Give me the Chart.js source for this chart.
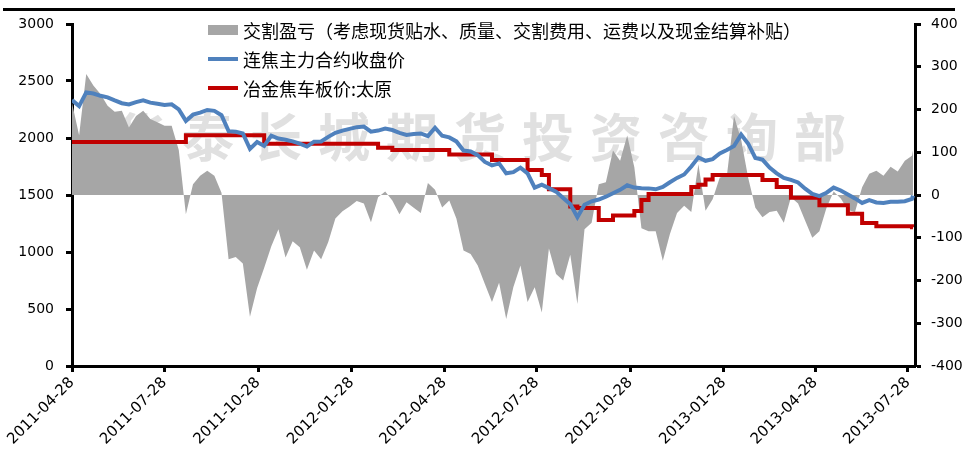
<!DOCTYPE html>
<html>
<head>
<meta charset="utf-8">
<title>焦炭交割盈亏</title>
<script src="https://cdn.jsdelivr.net/npm/chart.js@4.4.0/dist/chart.umd.min.js"></script>
<style>
    body { margin: 0; background: #fff; }
    #wrap { width: 965px; height: 450px; position: relative; }
</style>
</head>
<body>
<div id="wrap"><canvas id="chartJiaotan"></canvas></div>
<script>
// weekly samples
const dates = [
    '2011-04-28','2011-05-05','2011-05-12','2011-05-19','2011-05-26','2011-06-02','2011-06-09','2011-06-16','2011-06-23','2011-06-30',
    '2011-07-07','2011-07-14','2011-07-21','2011-07-28','2011-08-04','2011-08-11','2011-08-18','2011-08-25','2011-09-01','2011-09-08',
    '2011-09-15','2011-09-22','2011-09-29','2011-10-06','2011-10-13','2011-10-20','2011-10-27','2011-11-03','2011-11-10','2011-11-17',
    '2011-11-24','2011-12-01','2011-12-08','2011-12-15','2011-12-22','2011-12-29','2012-01-05','2012-01-12','2012-01-19','2012-01-26',
    '2012-02-02','2012-02-09','2012-02-16','2012-02-23','2012-03-01','2012-03-08','2012-03-15','2012-03-22','2012-03-29','2012-04-05',
    '2012-04-12','2012-04-19','2012-04-26','2012-05-03','2012-05-10','2012-05-17','2012-05-24','2012-05-31','2012-06-07','2012-06-14',
    '2012-06-21','2012-06-28','2012-07-05','2012-07-12','2012-07-19','2012-07-26','2012-08-02','2012-08-09','2012-08-16','2012-08-23',
    '2012-08-30','2012-09-06','2012-09-13','2012-09-20','2012-09-27','2012-10-04','2012-10-11','2012-10-18','2012-10-25','2012-11-01',
    '2012-11-08','2012-11-15','2012-11-22','2012-11-29','2012-12-06','2012-12-13','2012-12-20','2012-12-27','2013-01-03','2013-01-10',
    '2013-01-17','2013-01-24','2013-01-31','2013-02-07','2013-02-14','2013-02-21','2013-02-28','2013-03-07','2013-03-14','2013-03-21',
    '2013-03-28','2013-04-04','2013-04-11','2013-04-18','2013-04-25','2013-05-02','2013-05-09','2013-05-16','2013-05-23','2013-05-30',
    '2013-06-06','2013-06-13','2013-06-20','2013-06-27','2013-07-04','2013-07-11','2013-07-18','2013-07-25','2013-08-01','2013-08-02'
];

// 交割盈亏 (right axis)
const jiaogeYingkui = [
    215, 140, 283, 256, 236, 209, 195, 197, 158, 185,
    197, 178, 170, 162, 162, 105, -45, 25, 45, 57,
    45, 5, -150, -145, -160, -285, -218, -170, -120, -80,
    -146, -108, -122, -175, -130, -150, -110, -55, -38, -27,
    -14, -20, -64, -5, 8, -13, -45, -17, -30, -42,
    28, 12, -29, -13, -55, -130, -138, -165, -208, -250,
    -205, -290, -216, -165, -250, -216, -275, -125, -185, -200,
    -140, -255, -80, -65, 25, 30, 104, 80, 139, 65,
    -78, -85, -85, -154, -91, -42, -25, -40, 72, -37,
    -10, 41, 45, 185, 130, 40, -30, -52, -40, -37,
    -65, -5, -20, -60, -100, -85, -30, 8, -8, -35,
    -40, 18, 50, 57, 45, 66, 55, 80, 92, 104
];

// 连焦主力合约收盘价 (left axis)
const lianjiaoClose = [
    2333, 2280, 2400, 2390, 2370, 2357, 2330, 2305, 2295, 2315,
    2330, 2310, 2300, 2290, 2295, 2250, 2150, 2205, 2222, 2246,
    2238, 2200, 2060, 2055, 2040, 1905, 1965, 1930, 2020, 1995,
    1985, 1970, 1950, 1925, 1968, 1970, 2010, 2045, 2065, 2080,
    2095, 2100, 2055, 2065, 2082, 2070, 2045, 2026, 2035, 2040,
    2017, 2090, 2020, 2005, 1970, 1890, 1882, 1850, 1790, 1760,
    1777, 1690, 1700, 1740, 1690, 1565, 1590, 1560, 1530, 1474,
    1420, 1305, 1415, 1445, 1460, 1485, 1515, 1545, 1585, 1565,
    1560, 1558, 1550, 1570, 1612, 1650, 1680, 1750, 1830, 1800,
    1815, 1865, 1895, 1930, 2030, 1950, 1825, 1810, 1740, 1690,
    1650, 1632, 1610, 1555, 1510, 1490, 1520, 1565, 1540, 1505,
    1470, 1430, 1455, 1435, 1430, 1441, 1440, 1445, 1465, 1495
];

// 冶金焦车板价:太原 (left axis)
const taiyuanPrice = [
    1965, 1965, 1965, 1965, 1965, 1965, 1965, 1965, 1965, 1965,
    1965, 1965, 1965, 1965, 1965, 1965, 2025, 2025, 2025, 2025,
    2025, 2025, 2025, 2025, 2025, 2025, 2025, 1950, 1950, 1950,
    1950, 1950, 1950, 1950, 1950, 1950, 1950, 1950, 1950, 1950,
    1950, 1950, 1950, 1915, 1915, 1895, 1895, 1895, 1895, 1895,
    1895, 1895, 1895, 1855, 1855, 1855, 1855, 1855, 1855, 1807,
    1807, 1807, 1807, 1807, 1720, 1720, 1676, 1550, 1550, 1550,
    1400, 1385, 1385, 1385, 1280, 1280, 1320, 1320, 1320, 1360,
    1456, 1508, 1508, 1508, 1508, 1508, 1508, 1570, 1590, 1635,
    1676, 1676, 1676, 1676, 1676, 1676, 1676, 1632, 1632, 1570,
    1570, 1475, 1475, 1475, 1475, 1410, 1410, 1410, 1410, 1335,
    1335, 1255, 1255, 1225, 1225, 1225, 1225, 1225, 1218, 1218
];

const tickDates = ['2011-04-28', '2011-07-28', '2011-10-28', '2012-01-28', '2012-04-28',
    '2012-07-28', '2012-10-28', '2013-01-28', '2013-04-28', '2013-07-28'];
const axisEnd = '2013-08-04';

const seriesNames = [
    '交割盈亏（考虑现货贴水、质量、交割费用、运费以及现金结算补贴）',
    '连焦主力合约收盘价',
    '冶金焦车板价:太原'
];
const watermark = '华泰长城期货投资咨询部';

const dayOf = (s) => (Date.parse(s) - Date.parse(dates[0])) / 86400000;
const toPoints = (values) => values.map((v, i) => ({ x: dayOf(dates[i]), y: v }));

// legend drawn inside the plot, stacked like the original
const boxLegend = {
    id: 'boxLegend',
    afterDraw(chart) {
        const ctx = chart.ctx;
        const rows = [30, 59, 88];
        ctx.save();
        ctx.font = '18px "Noto Sans CJK SC"';
        ctx.textBaseline = 'middle';
        chart.data.datasets.forEach((ds, i) => {
            const y = rows[i];
            if (ds.fill) {
                ctx.fillStyle = ds.backgroundColor;
                ctx.fillRect(208, y - 5, 30, 10);
            } else {
                ctx.strokeStyle = ds.borderColor;
                ctx.lineWidth = 4;
                ctx.beginPath();
                ctx.moveTo(208, y);
                ctx.lineTo(238, y);
                ctx.stroke();
            }
            ctx.fillStyle = '#000';
            ctx.fillText(ds.label, 243, y + 1);
        });
        // top rule
        ctx.fillStyle = '#000';
        ctx.fillRect(3, 8, 952, 3);
        ctx.restore();
    }
};

const backMark = {
    id: 'backMark',
    beforeDatasetsDraw(chart) {
        const ctx = chart.ctx;
        ctx.save();
        ctx.font = 'bold 52px "Noto Sans CJK SC"';
        ctx.fillStyle = '#e0e0e0';
        ctx.textAlign = 'center';
        ctx.textBaseline = 'middle';
        [...watermark].forEach((ch, i) => {
            ctx.fillText(ch, 140 + 68 * i, 137);
        });
        ctx.restore();
    }
};

const tickFont = { family: 'DejaVu Sans', size: 14 };
const axisGrid = { drawOnChartArea: false, tickLength: 6, tickWidth: 3, tickColor: '#000' };
const axisBorder = { color: '#000', width: 3 };
const plainNumber = (value) => String(value);

const config = {
    type: 'line',
    data: {
        datasets: [{
            label: seriesNames[0],
            data: toPoints(jiaogeYingkui),
            yAxisID: 'y1',
            fill: 'origin',
            backgroundColor: '#A6A6A6',
            borderColor: '#A6A6A6',
            borderWidth: 0,
            pointRadius: 0,
            order: 3
        }, {
            label: seriesNames[1],
            data: toPoints(lianjiaoClose),
            yAxisID: 'y',
            fill: false,
            borderColor: '#4F81BD',
            borderWidth: 4,
            pointRadius: 0,
            order: 1
        }, {
            label: seriesNames[2],
            data: toPoints(taiyuanPrice),
            yAxisID: 'y',
            fill: false,
            stepped: true,
            borderColor: '#C00000',
            borderWidth: 4,
            pointRadius: 0,
            order: 2
        }]
    },
    options: {
        responsive: true,
        maintainAspectRatio: false,
        animation: false,
        layout: { padding: { top: 24, left: 0, right: 0, bottom: 0 } },
        plugins: {
            legend: { display: false },
            tooltip: { enabled: false }
        },
        scales: {
            x: {
                type: 'linear',
                min: 0,
                max: dayOf(axisEnd),
                afterBuildTicks: (scale) => {
                    scale.ticks = tickDates.map((d) => ({ value: dayOf(d) }));
                },
                afterFit: (scale) => { scale.height = 84; },
                ticks: {
                    autoSkip: false,
                    minRotation: 45,
                    maxRotation: 45,
                    padding: 2,
                    color: '#000',
                    font: { family: 'DejaVu Sans', size: 15 },
                    callback: (value, index) => tickDates[index]
                },
                grid: axisGrid,
                border: axisBorder
            },
            y: {
                position: 'left',
                min: 0,
                max: 3000,
                afterFit: (scale) => { scale.width = 72; },
                ticks: { stepSize: 500, padding: 12, color: '#000', font: tickFont, callback: plainNumber },
                grid: axisGrid,
                border: axisBorder
            },
            y1: {
                position: 'right',
                min: -400,
                max: 400,
                afterFit: (scale) => { scale.width = 50; },
                ticks: { stepSize: 100, padding: 10, color: '#000', font: tickFont, callback: plainNumber },
                grid: axisGrid,
                border: axisBorder
            }
        }
    },
    plugins: [backMark, boxLegend]
};

const canvasJiaotan = document.getElementById('chartJiaotan');
const graficoJiaotan = new Chart(canvasJiaotan, config);
</script>
</body>
</html>
